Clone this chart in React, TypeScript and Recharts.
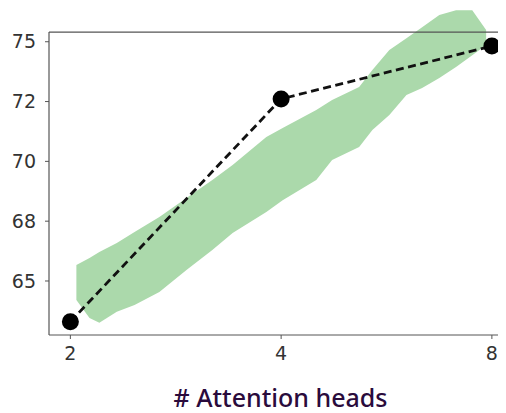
import { ComposedChart, Area, Line, XAxis, YAxis, ReferenceLine } from 'recharts';

// number of attention heads vs score (black dots + dashed line)
const heads = [2, 4, 8];
const scores = [63.3, 72.61, 74.82];

// green cloud, read as a lower/upper band along x
const bandX = [2.04, 2.13, 2.2, 2.33, 2.47, 2.68, 2.93, 3.19, 3.41, 3.81, 4.02, 4.49, 4.73, 5.17, 5.4, 5.71, 6.04, 6.36, 6.73, 7.11, 7.5, 7.85];
const bandLow = [64.21, 63.45, 63.25, 63.71, 64.0, 64.54, 65.46, 66.3, 67.01, 67.88, 68.38, 69.22, 70.06, 70.6, 71.31, 71.94, 72.77, 73.07, 73.48, 73.94, 74.44, 74.86];
const bandHigh = [65.67, 65.96, 66.21, 66.59, 67.05, 67.67, 68.47, 69.22, 69.85, 71.02, 71.39, 72.15, 72.56, 73.11, 73.82, 74.65, 75.15, 75.61, 76.12, 76.32, 76.32, 75.49];

const xTicks = [2, 4, 8];
const yTicks = [65, 67.5, 70, 72.5, 75];
const yTickLabels = ['65', '68', '70', '72', '75'];

const X_MIN = 1.8643;
const X_MAX = 8.38;
const Y_MIN = 62.743;
const Y_MAX = 76.41;
const Y_TOP_SPINE = 75.405;

const lineData = heads.map((h, i) => ({ x: h, score: scores[i] }));
const bandData = bandX.map((x, i) => ({ x, range: [bandLow[i], bandHigh[i]] }));

const spine = '#555';
const tickStyle = { fontSize: 19, fill: '#333', fontFamily: 'DejaVu Sans' };

export default function App() {
  return (
    <ComposedChart
      width={498}
      height={405}
      margin={{ top: 0, right: 0, bottom: 48, left: 0 }}
    >
      <XAxis
        type="number"
        dataKey="x"
        scale="log"
        domain={[X_MIN, X_MAX]}
        ticks={xTicks}
        tick={tickStyle}
        tickSize={4}
        tickMargin={8}
        stroke={spine}
        height={30}
        allowDuplicatedCategory={false}
        label={{
          value: '# Attention heads',
          position: 'bottom',
          offset: 24,
          dx: 3,
          style: { fontSize: 25, fontWeight: 500, fill: '#2a0b3c', fontFamily: 'Noto Sans' },
        }}
      />
      <YAxis
        type="number"
        domain={[Y_MIN, Y_MAX]}
        ticks={yTicks}
        tickFormatter={(v: number) => yTickLabels[yTicks.indexOf(v)]}
        tick={tickStyle}
        tickSize={4}
        tickMargin={9}
        axisLine={false}
        stroke={spine}
        width={41}
      />
      <Area
        data={bandData}
        dataKey="range"
        type="linear"
        fill="#abd9ab"
        fillOpacity={1}
        stroke="none"
        isAnimationActive={false}
      />
      <ReferenceLine
        segment={[{ x: X_MIN, y: Y_MIN }, { x: X_MIN, y: Y_TOP_SPINE }]}
        stroke={spine}
        strokeWidth={1.2}
        ifOverflow="visible"
      />
      <ReferenceLine
        segment={[{ x: X_MIN, y: Y_TOP_SPINE }, { x: X_MAX, y: Y_TOP_SPINE }]}
        stroke={spine}
        strokeWidth={1.2}
        ifOverflow="visible"
      />
      <Line
        data={lineData}
        dataKey="score"
        type="linear"
        stroke="#111"
        strokeWidth={2.8}
        strokeDasharray="8 4.5"
        dot={{ r: 8.5, fill: '#000', stroke: '#000', strokeWidth: 0, strokeDasharray: '0' }}
        isAnimationActive={false}
      />
    </ComposedChart>
  );
}
